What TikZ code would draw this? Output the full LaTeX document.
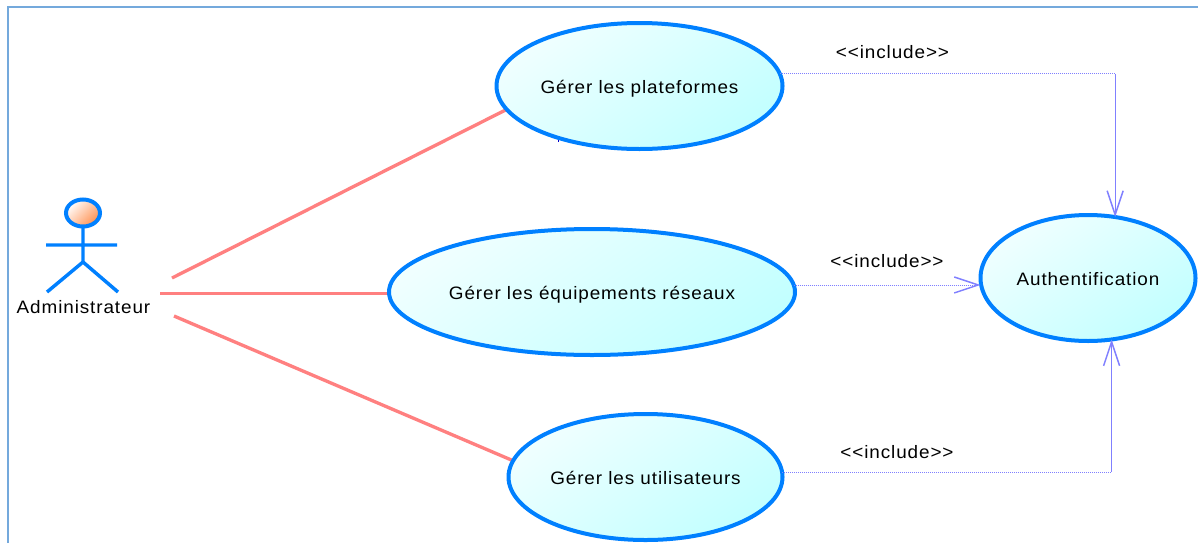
\documentclass[tikz,border=0pt]{standalone}
\usepackage{fontspec}
\setmainfont[LetterSpace=5,FakeStretch=1.05]{Liberation Sans}
\usetikzlibrary{arrows.meta,shapes.geometric,backgrounds}
\definecolor{ucblue}{HTML}{0080FF}
\definecolor{assoc}{HTML}{FF8080}
\definecolor{incl}{HTML}{8080FF}
\definecolor{framec}{HTML}{74A9DC}
\definecolor{cyanstart}{HTML}{F0FFFF}
\definecolor{cyanend}{HTML}{C2FFFF}
\definecolor{headend}{HTML}{FF9050}
\tikzset{
  usecase/.style={ellipse,draw=ucblue,line width=3pt,inner sep=0pt,outer sep=0pt,
    minimum height=94.5pt,top color=cyanstart,bottom color=cyanend,shading angle=35,text=black,
    text height=11pt,text depth=0pt},
  lbl/.style={inner sep=0pt,text=black},
  assocline/.style={draw=assoc,line width=2.5pt},
  includeline/.style={draw=incl,line width=0.5pt,dash pattern=on 1pt off 0.5pt,
    -{Straight Barb[length=18pt,width=12pt,line width=1.1pt]}},
  actorline/.style={draw=ucblue,line width=2.6pt},
  framel/.style={draw=framec,line width=1.5pt}
}
\begin{document}
\begin{tikzpicture}[x=0.75pt,y=-0.75pt,font=\fontsize{13.5pt}{16pt}\selectfont]
\useasboundingbox (0,0) rectangle (1198,543);
\coordinate (fa) at (8,543);
\coordinate (fb) at (8,7);
\coordinate (fc) at (1198,7);
\draw[framel] (fa) -- (fb) -- (fc);
% actor
\coordinate (neck) at (83,228);
\coordinate (hip) at (83,262);
\coordinate (armL) at (46,245);
\coordinate (armR) at (117,245);
\coordinate (legL) at (47,292);
\coordinate (legR) at (118,292);
\draw[actorline] (neck) -- (hip) (armL) -- (armR) (legL) -- (hip) -- (legR);
\node[ellipse,draw=ucblue,line width=3pt,inner sep=0pt,outer sep=0pt,minimum width=25.5pt,minimum height=20.25pt,
  top color=white,bottom color=headend,shading angle=45] (head) at (83,213) {};
\node[lbl] (actor) at (83.5,307) {Administrateur};
% association ends on the actor side
\coordinate (a1) at (172,278);
\coordinate (a2) at (160,293.5);
\coordinate (a3) at (174,316);
% use cases
\node[usecase,minimum width=214.5pt] (e1) at (639.5,86) {Gérer les plateformes};
\node[usecase,minimum width=304.5pt] (e2) at (592,292) {Gérer les équipements réseaux};
\node[usecase,minimum width=205.5pt] (e3) at (645.5,477) {Gérer les utilisateurs};
\node[usecase,minimum width=161.25pt] (auth) at (1088,278) {Authentification};
\begin{scope}[on background layer]
\fill[white] (0,0) rectangle (1198,543);
\draw[assocline] (a1) -- (e1.190.3);
\draw[assocline] (a2) -- (a2 -| e2.west);
\draw[assocline] (a3) -- (e3.173.2);
\end{scope}
\draw[includeline] (e1.5.4) -| (auth.66);
\draw[includeline] (e2.2.3) -- (e2.2.3 -| auth.west);
\draw[includeline] (e3.2.3) -| (auth.-69.3);
\node[lbl] (i1) at (892.5,52) {<{}<include>{}>};
\node[lbl] (i2) at (887,261) {<{}<include>{}>};
\node[lbl] (i3) at (897,452) {<{}<include>{}>};
\fill[blue!80!black] (557.8,140.3) rectangle (559,141.6);
\end{tikzpicture}
\end{document}
